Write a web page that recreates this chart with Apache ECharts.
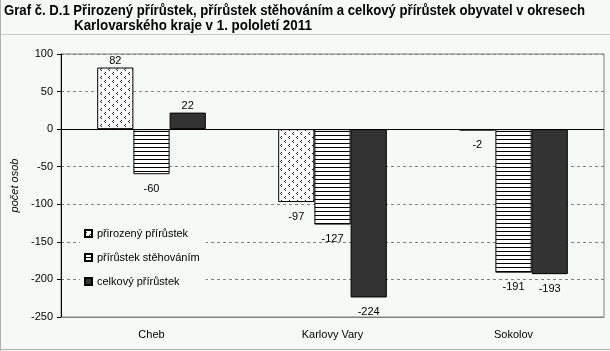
<!DOCTYPE html>
<html>
<head>
<meta charset="utf-8">
<script src="https://cdn.jsdelivr.net/npm/echarts@6/dist/echarts.min.js"></script>
<style>
html, body { margin: 0; padding: 0; background: #f5faf7; }
#chart { width: 610px; height: 351px; }
</style>
</head>
<body>
<div id="chart"></div>
<script>
// data
const categories = ['Cheb', 'Karlovy Vary', 'Sokolov']
const prirozeny = [82, -97, -2]
const stehovanim = [-60, -127, -191]
const celkovy = [22, -224, -193]
const seriesNames = ['přirozený přírůstek', 'přírůstek stěhováním', 'celkový přírůstek']
const titleLines = [
  'Graf č. D.1 Přirozený přírůstek, přírůstek stěhováním a celkový přírůstek obyvatel v okresech',
  'Karlovarského kraje v 1. pololetí 2011'
]

const bg = '#f5faf7'
const font = 'Arial, "Liberation Sans", sans-serif'

// vzorky výplně
function dotPattern() {
  const c = document.createElement('canvas')
  c.width = 8
  c.height = 8
  const ctx = c.getContext('2d')
  ctx.fillStyle = '#fff'
  ctx.fillRect(0, 0, 8, 8)
  ctx.fillStyle = '#222'
  ctx.fillRect(1, 0, 1, 1)
  ctx.fillRect(0, 1, 1, 1)
  ctx.fillRect(1, 2, 1, 1)
  ctx.fillRect(5, 4, 1, 1)
  ctx.fillRect(4, 5, 1, 1)
  ctx.fillRect(5, 6, 1, 1)
  return c
}
function linePattern() {
  const c = document.createElement('canvas')
  c.width = 4
  c.height = 4
  const ctx = c.getContext('2d')
  ctx.fillStyle = '#fff'
  ctx.fillRect(0, 0, 4, 4)
  ctx.fillStyle = '#000'
  ctx.fillRect(0, 3, 4, 1)
  return c
}

// popisky nad kladnými, pod zápornými sloupci
function withLabel(vals) {
  return vals.map(v => ({
    value: v,
    label: v >= 0 ? { position: 'top', distance: 1 } : { position: 'bottom', distance: 9 }
  }))
}

const barBase = {
  type: 'bar',
  barGap: 0,
  barCategoryGap: '40%',
  label: {
    show: true,
    color: '#000',
    fontSize: 11,
    fontFamily: font
  }
}

const titleStyle = {
  fill: '#000',
  font: 'bold 14px Arial, "Liberation Sans", sans-serif'
}

const chart = echarts.init(document.getElementById('chart'))
const option = {
  animation: false,
  backgroundColor: bg,
  textStyle: { fontFamily: font },
  graphic: [
    { type: 'text', left: 4, top: 4, scaleX: 0.938, style: Object.assign({ text: titleLines[0] }, titleStyle) },
    { type: 'text', left: 74, top: 19, scaleX: 0.955, style: Object.assign({ text: titleLines[1] }, titleStyle) },
    { type: 'line', shape: { x1: 0, y1: 34.5, x2: 610, y2: 34.5 }, style: { stroke: '#c8c8c8', lineWidth: 1 } },
    { type: 'line', shape: { x1: 0.5, y1: 0, x2: 0.5, y2: 351 }, style: { stroke: '#b0b0b0', lineWidth: 1 } },
    { type: 'line', shape: { x1: 0, y1: 349.5, x2: 610, y2: 349.5 }, style: { stroke: '#b0b0b0', lineWidth: 1 } }
  ],
  legend: {
    data: seriesNames,
    orient: 'vertical',
    left: 80,
    top: 226,
    itemWidth: 7,
    itemHeight: 7,
    itemGap: 13,
    icon: 'rect',
    padding: [2, 6, 2, 4],
    backgroundColor: bg,
    textStyle: { fontSize: 11, color: '#000', fontFamily: font }
  },
  grid: {
    left: 61,
    right: 6,
    top: 54,
    bottom: 34,
    show: true,
    borderColor: '#808080',
    borderWidth: 1
  },
  xAxis: {
    type: 'category',
    data: categories,
    axisLine: { show: true, onZero: false, lineStyle: { color: '#808080' } },
    axisTick: { show: false },
    axisLabel: { color: '#000', fontSize: 11, margin: 12 },
    splitLine: { show: false }
  },
  yAxis: {
    type: 'value',
    min: -250,
    max: 100,
    interval: 50,
    name: 'počet osob',
    nameLocation: 'middle',
    nameGap: 29,
    nameTextStyle: { fontStyle: 'italic', fontSize: 11, color: '#000' },
    axisLine: { show: true, lineStyle: { color: '#000' } },
    axisTick: { show: true, length: 4, lineStyle: { color: '#000' } },
    axisLabel: { color: '#000', fontSize: 11, margin: 8 },
    splitLine: { show: true, lineStyle: { color: '#808080', type: [3, 3] } }
  },
  series: [
    Object.assign({}, barBase, {
      name: seriesNames[0],
      data: withLabel(prirozeny),
      itemStyle: { color: { image: dotPattern(), repeat: 'repeat' }, borderColor: '#000', borderWidth: 1 },
      markLine: {
        silent: true,
        symbol: 'none',
        label: { show: false },
        lineStyle: { color: '#000', type: 'solid', width: 1 },
        data: [{ yAxis: 0 }]
      }
    }),
    Object.assign({}, barBase, {
      name: seriesNames[1],
      data: withLabel(stehovanim),
      itemStyle: { color: { image: linePattern(), repeat: 'repeat' }, borderColor: '#000', borderWidth: 1 }
    }),
    Object.assign({}, barBase, {
      name: seriesNames[2],
      data: withLabel(celkovy),
      itemStyle: { color: '#333333', borderColor: '#000', borderWidth: 1 }
    })
  ]
}
chart.setOption(option)
</script>
</body>
</html>
